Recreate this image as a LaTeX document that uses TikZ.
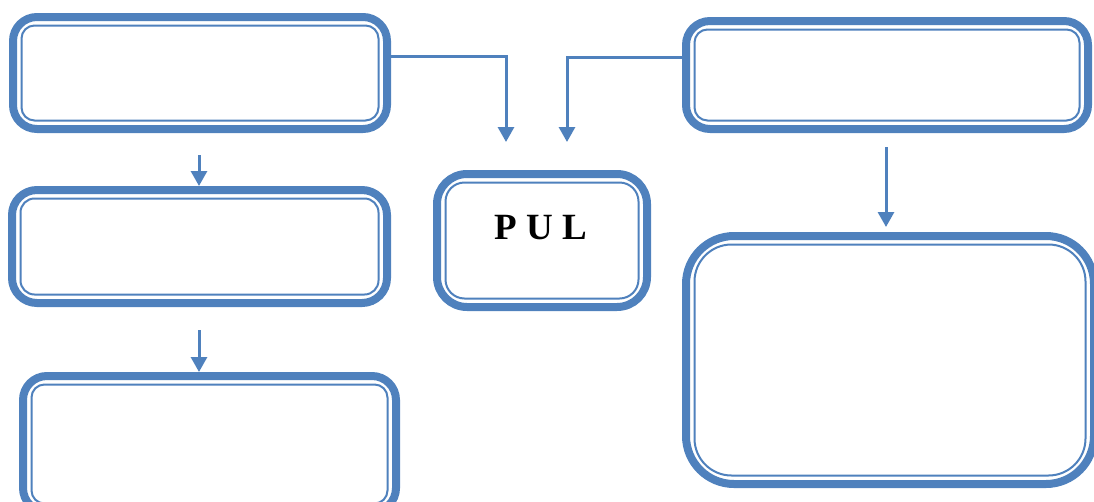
\documentclass[tikz,border=0pt]{standalone}
\usepackage{fontspec}
\setmainfont{Liberation Serif}
\usetikzlibrary{calc,arrows.meta}
\definecolor{bl}{HTML}{4F81BD}
\tikzset{
  outerbox/.style={draw=bl, line width=8pt, rounded corners=#1, inner sep=0pt, fill=white},
  innerframe/.style={draw=bl, line width=2pt, rounded corners=#1},
  conn/.style={draw=bl, line width=3pt, -{Triangle[width=16pt,length=15pt]}},
  pul/.style={font=\bfseries\fontsize{37}{40}\selectfont, text=black, inner sep=0pt, anchor=base},
}
\newcommand\dblbox[6]{%
  \pgfmathsetmacro\bw{#4-#2-8}%
  \pgfmathsetmacro\bh{#5-#3-8}%
  \pgfmathsetmacro\bx{(#2+#4)/2}%
  \pgfmathsetmacro\by{(#3+#5)/2}%
  \pgfmathsetmacro\ir{#6-11}%
  \node[outerbox=#6pt, minimum width=\bw pt, minimum height=\bh pt] (#1) at (\bx,\by) {};
  \draw[innerframe=\ir pt] ($(#1.north west)+(12.5,12.5)$) rectangle ($(#1.south east)+(-12.5,-12.5)$);
}
\begin{document}
\begin{tikzpicture}[x=1pt,y=-1pt]
\useasboundingbox (0,0) rectangle (1094,501);
% boxes
\dblbox{A}{9}{13}{391}{133}{24}
\dblbox{B}{682}{17}{1092}{133}{24}
\dblbox{C}{8}{186}{391}{307}{25}
\dblbox{D}{433}{170}{651}{311}{30}
\dblbox{E}{19}{372}{400}{516}{24}
\dblbox{F}{682}{232}{1098}{488}{48}
\node[pul] (pultext) at (541,239) {P U L};
% connector end points
\coordinate (pa) at (506,142);
\coordinate (pb) at (567,142);
\coordinate (ac1) at (199,155);
\coordinate (ac2) at (199,186);
\coordinate (ce1) at (199,330);
\coordinate (ce2) at (199,372);
\coordinate (bf1) at (886,147);
\coordinate (bf2) at (886,227);
% connectors
\draw[conn] ([yshift=17pt]A.east) -| (pa);
\draw[conn] ([yshift=18pt]B.west) -| (pb);
\draw[conn] (ac1) -- (ac2);
\draw[conn] (ce1) -- (ce2);
\draw[conn] (bf1) -- (bf2);
\end{tikzpicture}
\end{document}
